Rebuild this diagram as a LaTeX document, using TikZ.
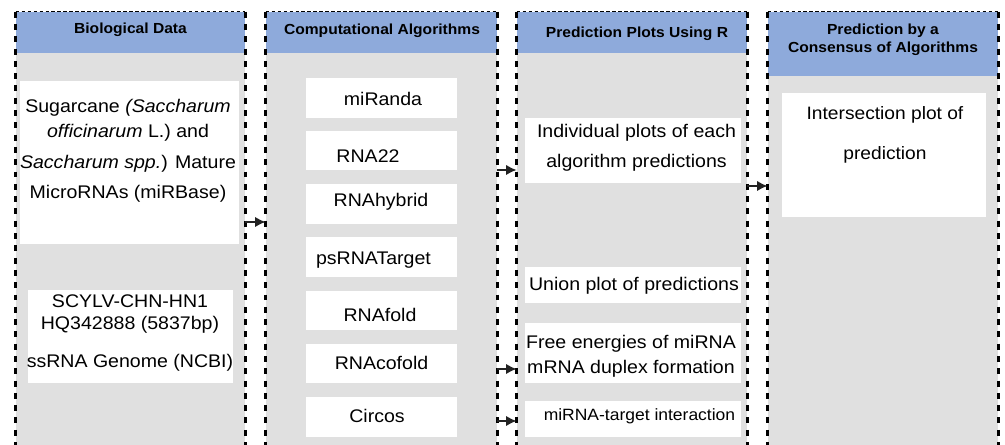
\documentclass[tikz,border=0pt]{standalone}
\usepackage{fontspec}
\setmainfont{Liberation Sans}[FakeStretch=1.07]
\usetikzlibrary{arrows.meta,fit}
\definecolor{hdrblue}{RGB}{142,170,219}
\definecolor{bodygrey}{RGB}{224,224,224}
\definecolor{arrowdark}{RGB}{34,34,34}
\tikzset{
  colbody/.style={fill=bodygrey, draw=none, inner sep=0pt},
  hdrbox/.style={fill=hdrblue, draw=none, inner sep=0pt},
  wbox/.style={fill=white, draw=none, inner sep=0pt},
  sideline/.style={draw=black, line width=1.4pt, dash pattern=on 3.4pt off 3.6pt},
  topline/.style={draw=black, line width=0.6pt, dash pattern=on 2pt off 1.4pt},
  connector/.style={draw=arrowdark, line width=1.5pt, -{Latex[length=6pt,width=6pt]}},
  hdtext/.style={font=\bfseries\fontsize{8.3}{10.2}\selectfont, align=center, inner sep=0pt},
  bodytext/.style={font=\fontsize{10.4}{16}\selectfont, align=center, inner sep=0pt},
}
\begin{document}
\begin{tikzpicture}[x=0.02cm, y=-0.02cm]
\useasboundingbox (0,0) rectangle (1005,445);
\clip (0,0) rectangle (1005,445);

% columns
\node[colbody, fit={(16,12) (245,455)}] (c1) {};
\node[colbody, fit={(266,12) (497,455)}] (c2) {};
\node[colbody, fit={(517,12) (747,455)}] (c3) {};
\node[colbody, fit={(768,12) (998,455)}] (c4) {};

% headers
\node[hdrbox, fit={(16,12) (245,53)}] (h1) {};
\node[hdrbox, fit={(266,12) (497,53)}] (h2) {};
\node[hdrbox, fit={(517,12) (747,53)}] (h3) {};
\node[hdrbox, fit={(768,12) (998,76)}] (h4) {};
\node[hdtext] (h1t) at (130.5,30) {Biological Data};
\node[hdtext] (h2t) at (382,31) {Computational Algorithms};
\node[hdtext] (h3t) at (637,34) {Prediction Plots Using R};
\node[hdtext] (h4t) at (883,40) {Prediction by a\\Consensus of Algorithms};

% column 1 boxes
\node[wbox, fit={(20,81) (239,244)}] (b11) {};
\node[bodytext] (b11t) at (128,151) {Sugarcane \textit{(Saccharum}\\[-1.8pt]\textit{officinarum} L.) and\\[1.6pt]\textit{Saccharum spp.}) Mature\\[1pt]MicroRNAs (miRBase)};
\node[wbox, fit={(28,290) (233,383)}] (b12) {};
\node[bodytext, font=\fontsize{10.4}{12.5}\selectfont] (b12t) at (130,333) {SCYLV-CHN-HN1\\HQ342888 (5837bp)\\[9pt]ssRNA Genome (NCBI)};

% column 2 boxes
\node[wbox, fit={(306,78) (457,118)}] (b21) {};
\node[bodytext] (b21t) at (383,99) {miRanda};
\node[wbox, fit={(306,131) (457,170)}] (b22) {};
\node[bodytext] (b22t) at (368,156) {RNA22};
\node[wbox, fit={(306,184) (457,224)}] (b23) {};
\node[bodytext] (b23t) at (381,202) {RNAhybrid};
\node[wbox, fit={(306,237) (457,277)}] (b24) {};
\node[bodytext] (b24t) at (373.5,260) {psRNATarget};
\node[wbox, fit={(306,291) (457,330)}] (b25) {};
\node[bodytext] (b25t) at (380,315) {RNAfold};
\node[wbox, fit={(306,344) (457,383)}] (b26) {};
\node[bodytext] (b26t) at (381.5,363) {RNAcofold};
\node[wbox, fit={(306,397) (457,437)}] (b27) {};
\node[bodytext] (b27t) at (377,416) {Circos};

% column 3 boxes
\node[wbox, fit={(525,118) (741,183)}] (b31) {};
\node[bodytext, font=\fontsize{10.4}{17}\selectfont] (b31t) at (636.5,148) {Individual plots of each\\algorithm predictions};
\node[wbox, fit={(525,267) (741,303)}] (b32) {};
\node[bodytext] (b32t) at (634,286) {Union plot of predictions};
\node[wbox, fit={(525,323) (741,383)}] (b33) {};
\node[bodytext, font=\fontsize{10.4}{14.2}\selectfont] (b33t) at (631,356.5) {Free energies of miRNA\\mRNA duplex formation};
\node[wbox, fit={(525,401) (741,437)}] (b34) {};
\node[bodytext, font=\fontsize{9.3}{11}\selectfont] (b34t) at (639.5,416) {miRNA-target interaction};

% column 4 box
\node[wbox, fit={(782,93) (986,217)}] (b41) {};
\node[bodytext, font=\fontsize{10.2}{22.7}\selectfont] (b41t) at (885,135) {Intersection plot of\\prediction};

% borders
\foreach \c in {c1,c2,c3,c4}{
  \draw[sideline] (\c.north west) -- (\c.south west);
  \draw[sideline] (\c.north east) -- (\c.south east);
  \draw[topline] (\c.north west) -- (\c.north east);
}

% connectors
\coordinate (a1s) at (c1.east |- 0,222);
\coordinate (a1e) at (c2.west |- 0,222);
\coordinate (a2s) at (c2.east |- 0,170);
\coordinate (a2e) at (c3.west |- 0,170);
\coordinate (a3s) at (c2.east |- 0,369);
\coordinate (a3e) at (c3.west |- 0,369);
\coordinate (a4s) at (c2.east |- 0,421);
\coordinate (a4e) at (c3.west |- 0,421);
\coordinate (a5s) at (c3.east |- 0,186);
\coordinate (a5e) at (c4.west |- 0,186);
\draw[connector] (a1s) -- (a1e);
\draw[connector] (a2s) -- (a2e);
\draw[connector] (a3s) -- (a3e);
\draw[connector] (a4s) -- (a4e);
\draw[connector] (a5s) -- (a5e);
\end{tikzpicture}
\end{document}
